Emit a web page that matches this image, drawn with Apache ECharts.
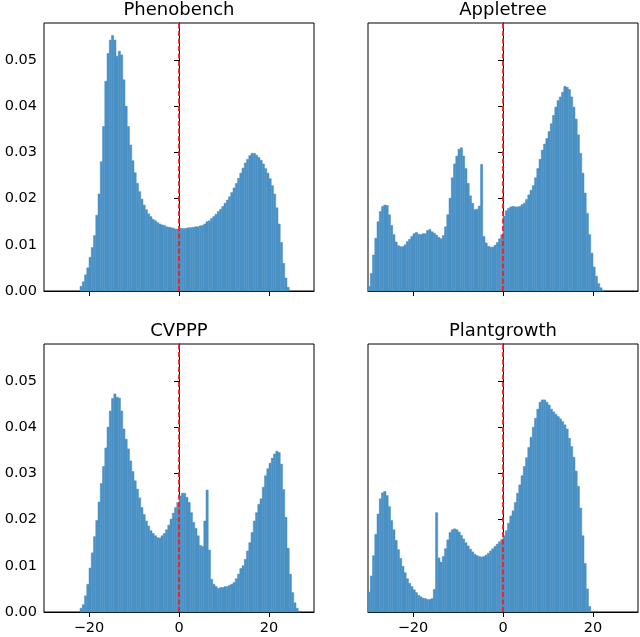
<!DOCTYPE html>
<html>
<head>
<meta charset="utf-8">
<script src="https://cdn.jsdelivr.net/npm/echarts@6/dist/echarts.min.js"></script>
<style>
  html, body { margin: 0; padding: 0; background: #fff; }
  #main { width: 640px; height: 637px; }
</style>
</head>
<body>
<div id="main"></div>
<script>
// histogram bins: 120 bins of 0.5 from -30 to 30
var binStart = -30;
var binWidth = 0.5;

var titles = ['Phenobench', 'Appletree', 'CVPPP', 'Plantgrowth'];

var xTicks = [-20, 0, 20];
var xTickLabels = ['\u221220', '0', '20'];
var yTicks = [0, 0.01, 0.02, 0.03, 0.04, 0.05];
var yTickLabels = ['0.00', '0.01', '0.02', '0.03', '0.04', '0.05'];

var phenobench = [
  0,0,0,0,0,0,0,0,0,0,0,0,0,0,0,0,
  0.001,0.002,0.0035,0.005,0.0073,0.0094,0.012,0.0164,0.021,0.028,
  0.0356,0.0454,0.0514,0.0543,0.0553,0.0543,0.0508,0.0519,0.0511,0.0457,
  0.040,0.0356,0.0316,0.0282,0.0256,0.0233,0.0215,0.0199,0.0186,0.0176,
  0.0167,0.0161,0.0155,0.0152,0.0148,0.0145,0.0143,0.0142,0.0139,0.0138,
  0.0137,0.0136,0.0134,0.0134,
  0.0136,0.0135,0.0135,0.0136,0.0137,0.0137,0.0138,0.0139,0.0139,0.0141,
  0.0142,0.0145,0.015,0.0152,0.0157,0.0161,0.0166,0.0172,0.0177,0.0183,
  0.019,0.0197,0.0204,0.0213,0.0223,0.0233,0.0244,0.0255,0.0266,0.0277,
  0.0285,0.0293,0.0298,0.0298,0.0294,0.0289,0.0283,0.0275,0.0265,0.0255,
  0.0243,0.0228,0.021,0.018,0.0145,0.0105,0.006,0.0028,0.0008,0,
  0,0,0,0,0,0,0,0,0,0
];

var appletree = [
  0.001,0.0038,0.0078,0.0114,0.015,0.0172,0.0183,0.0186,0.0185,0.0165,
  0.0142,0.0122,0.0106,0.0098,0.0096,0.0096,0.01,0.0107,0.0112,0.0118,
  0.0124,0.0127,0.0123,0.0122,0.0124,0.0124,0.0131,0.0133,0.0128,0.0125,
  0.0121,0.0116,0.0113,0.012,0.0139,0.0165,0.0201,0.0245,0.0275,0.0292,
  0.0307,0.031,0.0292,0.0265,0.0233,0.0206,0.019,0.0176,0.0177,0.0184,
  0.0274,0.0118,0.0104,0.0097,0.0095,0.0095,0.0099,0.0105,0.0113,0.0122,
  0.0162,0.0174,0.0179,0.0182,0.0183,0.0182,0.0182,0.0183,0.0187,0.019,
  0.0198,0.0208,0.0218,0.0228,0.0245,0.0265,0.0285,0.0305,0.0318,0.033,
  0.0345,0.0362,0.038,0.0398,0.0412,0.042,0.043,0.0443,0.0441,0.0436,
  0.042,0.0398,0.0372,0.0338,0.0298,0.0255,0.0212,0.0168,0.0122,0.0082,
  0.0052,0.0032,0.0016,0.0007,0.0002,0,0,0,0,0,
  0,0,0,0,0,0,0,0,0,0
];

var cvppp = [
  0,0,0,0,0,0,0,0,0,0,0,0,0,0,0,0,
  0.0008,0.0016,0.0035,0.006,0.0095,0.0128,0.0163,0.0198,0.0238,0.0278,
  0.0315,0.0355,0.04,0.0435,0.0462,0.0472,0.0465,0.0463,0.0435,0.0396,
  0.0374,0.0353,0.0327,0.0304,0.0284,0.0266,0.0247,0.0226,0.0211,0.0197,
  0.0186,0.0176,0.017,0.0165,0.0161,0.016,0.0165,0.017,0.0178,0.0188,
  0.0201,0.0214,0.0226,0.0237,
  0.0251,0.0257,0.0257,0.0248,0.0237,0.0215,0.0194,0.0181,0.0165,0.0144,
  0.0142,0.0197,0.0264,0.0134,0.0071,0.006,0.0055,0.0051,0.0053,0.0053,
  0.0055,0.0055,0.0058,0.006,0.0064,0.0072,0.0082,0.0094,0.01,0.0114,
  0.0132,0.015,0.0172,0.0197,0.0215,0.0233,0.0245,0.027,0.0295,0.031,
  0.0322,0.0333,0.0342,0.0348,0.0345,0.032,0.0265,0.0205,0.0138,0.0082,
  0.0042,0.002,0.0008,0.0002,0,0,0,0,0,0
];

var plantgrowth = [
  0.0043,0.0078,0.0122,0.0168,0.0212,0.0245,0.0258,0.0261,0.0252,0.0228,
  0.0198,0.0178,0.0155,0.0135,0.0116,0.0099,0.0085,0.0072,0.0062,0.0055,
  0.0048,0.0042,0.0036,0.0033,0.003,0.0029,0.0027,0.0027,0.0029,0.0049,
  0.0215,0.0117,0.0108,0.012,0.0137,0.0156,0.0172,0.0178,0.018,0.0178,
  0.0173,0.0166,0.0158,0.015,0.0143,0.0136,0.013,0.0125,0.0122,0.012,
  0.0119,0.012,0.0123,0.0127,0.0132,0.0137,0.0142,0.0147,0.0152,0.0157,
  0.0165,0.0176,0.0192,0.0208,0.0219,0.0237,0.0257,0.0275,0.0295,0.0315,
  0.0334,0.0356,0.0378,0.04,0.0419,0.0439,0.0454,0.0459,0.0459,0.0454,
  0.0448,0.0439,0.0433,0.0428,0.0423,0.0418,0.0412,0.0405,0.0396,0.0376,
  0.0358,0.0335,0.0305,0.0272,0.0225,0.0165,0.0105,0.005,0.0012,0,
  0,0,0,0,0,0,0,0,0,0,
  0,0,0,0,0,0,0,0,0,0
];

var allData = [phenobench, appletree, cvppp, plantgrowth];

var barColor = '#4a90c4';
var font = 'DejaVu Sans';

// panel rectangles (px)
var panels = [
  { left: 44, top: 23 },
  { left: 368, top: 23 },
  { left: 44, top: 344 },
  { left: 368, top: 344 }
];
var panelW = 270, panelH = 268;

function toBins(values) {
  var out = [];
  for (var i = 0; i < values.length; i++) {
    var lo = binStart + i * binWidth;
    out.push([lo, lo + binWidth, values[i]]);
  }
  return out;
}

function renderBar(params, api) {
  if (!api.value(2)) return null;
  var p0 = api.coord([api.value(0), api.value(2)]);
  var p1 = api.coord([api.value(1), 0]);
  return {
    type: 'rect',
    shape: { x: p0[0], y: p0[1], width: p1[0] - p0[0], height: p1[1] - p0[1] },
    style: { fill: barColor, stroke: barColor, lineWidth: 0.5 }
  };
}

var grids = [], xAxes = [], yAxes = [], series = [], titleOpts = [];

for (var k = 0; k < 4; k++) {
  var p = panels[k];
  var isBottom = k >= 2;
  var isLeft = k % 2 === 0;
  grids.push({
    left: p.left, top: p.top, width: panelW, height: panelH,
    show: true, borderColor: '#000', borderWidth: 1, backgroundColor: 'transparent'
  });
  titleOpts.push({
    text: titles[k],
    left: p.left + panelW / 2,
    top: p.top - 22,
    textAlign: 'center',
    padding: 0,
    textStyle: { fontFamily: font, fontSize: 18, fontWeight: 'normal', color: '#000' }
  });
  xAxes.push({
    gridIndex: k, type: 'value', min: -30, max: 30,
    axisLine: { show: true, onZero: false, lineStyle: { color: '#000', width: 1 } },
    axisTick: { show: true, customValues: xTicks, length: 5, lineStyle: { color: '#000', width: 1 } },
    axisLabel: {
      show: isBottom, customValues: xTicks, margin: 9,
      fontFamily: font, fontSize: 14.5, color: '#000',
      formatter: function (v) { return xTickLabels[xTicks.indexOf(v)]; }
    },
    splitLine: { show: false }
  });
  yAxes.push({
    gridIndex: k, type: 'value', min: 0, max: 0.058,
    axisLine: { show: true, lineStyle: { color: '#000', width: 1 } },
    axisTick: { show: true, customValues: yTicks, length: 5, lineStyle: { color: '#000', width: 1 } },
    axisLabel: {
      show: isLeft, customValues: yTicks, margin: 7,
      fontFamily: font, fontSize: 14.5, color: '#000',
      formatter: function (v) {
        for (var j = 0; j < yTicks.length; j++) {
          if (Math.abs(yTicks[j] - v) < 1e-9) return yTickLabels[j];
        }
        return '';
      }
    },
    splitLine: { show: false }
  });
  series.push({
    type: 'custom',
    xAxisIndex: k, yAxisIndex: k,
    renderItem: renderBar,
    encode: { x: [0, 1], y: 2 },
    data: toBins(allData[k]),
    silent: true,
    markLine: {
      silent: true,
      symbol: ['none', 'none'],
      label: { show: false },
      lineStyle: { color: '#ff1a1a', width: 1.8, type: [5, 2.5] },
      data: [{ xAxis: 0 }],
      animation: false
    }
  });
}

var myChart = echarts.init(document.getElementById('main'), null, { renderer: 'canvas' });
myChart.setOption({
  animation: false,
  backgroundColor: '#fff',
  title: titleOpts,
  grid: grids,
  xAxis: xAxes,
  yAxis: yAxes,
  series: series
});
</script>
</body>
</html>
